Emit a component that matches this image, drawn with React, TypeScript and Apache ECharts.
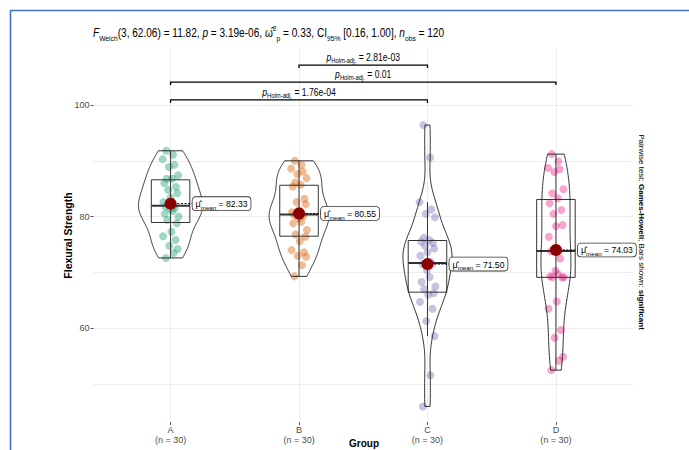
import React, { useEffect, useRef } from 'react';
import * as echarts from 'echarts';

// ---------- data ----------
const categories = ['A', 'B', 'C', 'D'];
const groupCounts = [30, 30, 30, 30];
const groupA = [72.6, 73.5, 74.2, 74.8, 75.8, 76.5, 77.3, 78.8, 79.4, 80.0, 80.5, 81.0, 81.3, 81.6, 81.8, 82.1, 82.6, 83.4, 84.2, 84.8, 85.3, 86.0, 86.8, 86.8, 87.4, 88.9, 89.3, 90.3, 91.1, 91.8];
const groupB = [69.3, 71.3, 72.8, 73.0, 73.6, 74.0, 75.6, 76.4, 76.8, 77.6, 78.8, 79.1, 79.7, 80.1, 80.3, 80.5, 80.8, 81.2, 82.2, 82.6, 83.2, 85.4, 85.7, 86.1, 86.9, 87.6, 88.1, 88.6, 89.3, 90.0];
const groupC = [46.0, 51.6, 58.6, 61.3, 63.5, 64.7, 66.0, 66.3, 67.0, 67.5, 68.3, 69.2, 70.4, 71.4, 71.5, 71.9, 73.0, 73.6, 74.3, 74.8, 75.3, 75.5, 75.8, 76.2, 79.9, 80.5, 81.3, 82.6, 90.6, 96.4];
const groupD = [52.5, 54.2, 54.9, 58.3, 59.7, 63.5, 64.8, 69.1, 69.2, 69.2, 69.3, 69.7, 70.3, 72.5, 73.8, 73.9, 76.4, 78.3, 78.5, 80.5, 81.2, 82.4, 83.3, 84.2, 84.9, 88.0, 88.5, 88.7, 89.9, 91.2];
const groupColors = ['#1B9E77', '#D95F02', '#7570B3', '#E7298A'];

const pairFrom = [1, 1, 2];
const pairTo = [3, 4, 3];
const pairLevels = [100.9, 104.1, 107.15];
const pairP = ['1.76e-04', '0.01', '2.81e-03'];

const yTickValues = [60, 80, 100];
const yMinorValues = [50, 70, 90];
const xTickValues = [1, 2, 3, 4];

// deterministic horizontal spread of the jittered points (in category units, -1..1)
const jitterPattern = [-0.55, 0.35, 0.85, -0.15, 0.6, -0.9, 0.1, 0.75, -0.4, 0.95, -0.7, 0.25, -0.05, 0.5, -0.6, 0.4, -0.85, 0.0, 0.8, -0.3, 0.65, -0.75, 0.2, -0.45, 0.9, -0.2, 0.45, -0.95, 0.3, -0.5];

// ---------- statistics ----------
const groups = [groupA, groupB, groupC, groupD];

function quantile(sorted: number[], p: number) {
  const h = (sorted.length - 1) * p;
  const lo = Math.floor(h);
  const hi = Math.min(lo + 1, sorted.length - 1);
  return sorted[lo] + (h - lo) * (sorted[hi] - sorted[lo]);
}

const stats = groups.map((vals) => {
  const s = [...vals].sort((a, b) => a - b);
  const n = s.length;
  const mean = s.reduce((a, b) => a + b, 0) / n;
  const sd = Math.sqrt(s.reduce((a, b) => a + (b - mean) * (b - mean), 0) / (n - 1));
  const q1 = quantile(s, 0.25);
  const med = quantile(s, 0.5);
  const q3 = quantile(s, 0.75);
  const iqr = q3 - q1;
  const lowFence = q1 - 1.5 * iqr;
  const highFence = q3 + 1.5 * iqr;
  const wLow = s.find((v) => v >= lowFence) as number;
  const wHigh = [...s].reverse().find((v) => v <= highFence) as number;
  const bw = 0.9 * Math.min(sd, iqr / 1.34) * Math.pow(n, -0.2);
  const grid: number[] = [];
  const dens: number[] = [];
  const steps = 160;
  for (let k = 0; k <= steps; k++) {
    const y = s[0] + ((s[n - 1] - s[0]) * k) / steps;
    let d = 0;
    for (const v of s) {
      const z = (y - v) / bw;
      d += Math.exp(-0.5 * z * z);
    }
    d /= n * bw * Math.sqrt(2 * Math.PI);
    grid.push(y);
    dens.push(d);
  }
  return { mean, q1, med, q3, wLow, wHigh, grid, dens };
});
const maxDens = Math.max(...stats.map((st) => Math.max(...st.dens)));

const FONT = '"Liberation Sans", Arial, Helvetica, sans-serif';

export default function App() {
  const ref = useRef<HTMLDivElement>(null);
  useEffect(() => {
    if (!ref.current) return;
    const chart = echarts.init(ref.current, undefined, { renderer: 'svg' });
    const gridLine = { show: true, lineStyle: { color: '#E8E8E8', width: 0.8 } };

    const pointSeries = groups.map((vals, g) => ({
      type: 'scatter',
      z: 2,
      symbolSize: 8,
      itemStyle: { color: groupColors[g], opacity: 0.42 },
      data: vals.map((v, i) => [g + 1 + jitterPattern[i % jitterPattern.length] * 0.065, v]),
      silent: true,
    }));

    const option: any = {
      animation: false,
      textStyle: { fontFamily: FONT },
      grid: { left: 93.5, right: 56, top: 49.17, height: 372.9, containLabel: false, outerBoundsMode: 'none' },
      xAxis: {
        type: 'value',
        min: 0.4,
        max: 4.6,
        axisLine: { show: false },
        axisTick: { show: true, customValues: xTickValues, length: 3, lineStyle: { color: '#333', width: 0.8 } },
        axisLabel: {
          customValues: xTickValues,
          formatter: (v: number) => `${categories[Math.round(v) - 1]}\n(n = ${groupCounts[Math.round(v) - 1]})`,
          color: '#4D4D4D',
          fontSize: 9,
          lineHeight: 10,
          margin: 3,
          fontFamily: FONT,
        },
        splitLine: gridLine,
      },
      yAxis: [
        {
          type: 'value',
          min: 43.2,
          max: 110,
          axisLine: { show: false },
          axisTick: { show: true, customValues: yTickValues, length: 3, lineStyle: { color: '#333', width: 0.8 } },
          axisLabel: { customValues: yTickValues, color: '#4D4D4D', fontSize: 9, margin: 4, fontFamily: FONT },
          splitLine: gridLine,
        },
        {
          type: 'value',
          min: 43.2,
          max: 110,
          position: 'left',
          axisLine: { show: false },
          axisTick: { show: false, customValues: yMinorValues },
          axisLabel: { show: false, customValues: yMinorValues },
          splitLine: gridLine,
        },
      ],
      series: [
        ...pointSeries,
        {
          type: 'custom',
          z: 3,
          silent: true,
          data: categories.map((_, i) => [i + 1, stats[i].med]),
          renderItem: (params: any, api: any) => {
            const i = params.dataIndex;
            const st = stats[i];
            const cx = i + 1;
            const top = api.coord([cx - 0.15, st.q3]);
            const bot = api.coord([cx + 0.15, st.q1]);
            const wl = api.coord([cx, st.wLow]);
            const wh = api.coord([cx, st.wHigh]);
            const ml = api.coord([cx - 0.15, st.med]);
            const mr = api.coord([cx + 0.15, st.med]);
            return {
              type: 'group',
              children: [
                { type: 'line', shape: { x1: wl[0], y1: wl[1], x2: wh[0], y2: wh[1] }, style: { stroke: '#333', lineWidth: 1 } },
                { type: 'rect', shape: { x: top[0], y: top[1], width: bot[0] - top[0], height: bot[1] - top[1] }, style: { fill: 'none', stroke: '#333', lineWidth: 1 } },
                { type: 'line', shape: { x1: ml[0], y1: ml[1], x2: mr[0], y2: mr[1] }, style: { stroke: '#333', lineWidth: 2 } },
              ],
            };
          },
        },
        {
          type: 'custom',
          z: 3,
          silent: true,
          data: categories.map((_, i) => [i + 1, stats[i].med]),
          renderItem: (params: any, api: any) => {
            const i = params.dataIndex;
            const st = stats[i];
            const cx = i + 1;
            const left: number[][] = [];
            const right: number[][] = [];
            st.grid.forEach((y, k) => {
              const hw = (0.25 * st.dens[k]) / maxDens;
              left.push(api.coord([cx - hw, y]));
              right.push(api.coord([cx + hw, y]));
            });
            return {
              type: 'polygon',
              shape: { points: left.concat(right.reverse()) },
              style: { fill: 'none', stroke: '#1a1a1a', lineWidth: 0.9 },
            };
          },
        },
        {
          type: 'custom',
          z: 4,
          silent: true,
          data: categories.map((_, i) => [i + 1, stats[i].mean]),
          renderItem: (params: any, api: any) => {
            const i = params.dataIndex;
            const p = api.coord([i + 1, stats[i].mean]);
            const lx = p[0] + 22;
            return {
              type: 'group',
              children: [
                { type: 'line', shape: { x1: p[0], y1: p[1], x2: lx, y2: p[1] }, style: { stroke: '#000', lineWidth: 1, lineDash: [2, 1.5] } },
                {
                  type: 'text',
                  x: lx,
                  y: p[1],
                  style: {
                    text: `{mu|μ̂}{sub|mean}{n| = ${stats[i].mean.toFixed(2)}}`,
                    rich: {
                      mu: { fontSize: 9, lineHeight: 12, fontFamily: FONT, fill: '#000' },
                      sub: { fontSize: 6.2, lineHeight: 7, verticalAlign: 'bottom', fontFamily: FONT, fill: '#000' },
                      n: { fontSize: 8.6, lineHeight: 12, fontFamily: FONT, fill: '#000' },
                    },
                    align: 'left',
                    verticalAlign: 'middle',
                    backgroundColor: '#fff',
                    borderColor: '#333',
                    borderWidth: 0.8,
                    borderRadius: 3,
                    padding: [1, 3, 0, 3],
                  },
                },
              ],
            };
          },
        },
        {
          type: 'scatter',
          z: 5,
          symbolSize: 12,
          itemStyle: { color: '#8B0000', opacity: 1 },
          data: categories.map((_, i) => [i + 1, stats[i].mean]),
          silent: true,
        },
        {
          type: 'custom',
          z: 5,
          silent: true,
          data: pairFrom.map((f, i) => [f, pairLevels[i]]),
          renderItem: (params: any, api: any) => {
            const i = params.dataIndex;
            const a = api.coord([pairFrom[i], pairLevels[i]]);
            const b = api.coord([pairTo[i], pairLevels[i]]);
            return {
              type: 'group',
              children: [
                {
                  type: 'polyline',
                  shape: { points: [[a[0], a[1] + 3], [a[0], a[1]], [b[0], b[1]], [b[0], b[1] + 3]] },
                  style: { stroke: '#000', lineWidth: 1.3, fill: 'none' },
                },
                {
                  type: 'text',
                  x: (a[0] + b[0]) / 2,
                  y: a[1] - 1,
                  scaleX: 0.86,
                  style: {
                    text: `{p|p}{sub|Holm-adj.}{n| = ${pairP[i]}}`,
                    rich: {
                      p: { fontSize: 10, fontStyle: 'italic', lineHeight: 13, fontFamily: FONT, fill: '#000' },
                      sub: { fontSize: 6.8, lineHeight: 7, verticalAlign: 'bottom', fontFamily: FONT, fill: '#000' },
                      n: { fontSize: 10, lineHeight: 13, fontFamily: FONT, fill: '#000' },
                    },
                    align: 'center',
                    verticalAlign: 'bottom',
                  },
                },
              ],
            };
          },
        },
      ],
      graphic: [
        {
          type: 'rect',
          x: 10.5,
          y: 10.5,
          shape: { x: 0, y: 0, width: 720, height: 500 },
          style: { fill: 'none', stroke: '#4472C4', lineWidth: 1.6 },
          silent: true,
        },
        {
          type: 'text',
          x: 93,
          y: 24,
          scaleX: 0.84,
          style: {
            text:
              '{i|F}{sub|Welch}{n|(3, 62.06) = 11.82, }{i|p}{n| = 3.19e-06, }{n|ω̂}{sup|2}{sub|p}{n| = 0.33, CI}{sub|95%}{n| [0.16, 1.00], }{i|n}{sub|obs}{n| = 120}',
            rich: {
              i: { fontSize: 12, fontStyle: 'italic', lineHeight: 18, fontFamily: FONT, fill: '#000' },
              n: { fontSize: 12, lineHeight: 18, fontFamily: FONT, fill: '#000' },
              sub: { fontSize: 8, lineHeight: 8, verticalAlign: 'bottom', fontFamily: FONT, fill: '#000' },
              sup: { fontSize: 8, lineHeight: 8, verticalAlign: 'top', fontFamily: FONT, fill: '#000' },
            },
          },
        },
        {
          type: 'text',
          x: 68,
          y: 235.5,
          rotation: Math.PI / 2,
          style: {
            text: 'Flexural Strength',
            fontSize: 10.5,
            fontWeight: 'bold',
            fontFamily: FONT,
            fill: '#000',
            align: 'center',
            verticalAlign: 'middle',
          },
        },
        {
          type: 'text',
          x: 364,
          y: 438,
          style: {
            text: 'Group',
            fontSize: 10,
            fontWeight: 'bold',
            fontFamily: FONT,
            fill: '#000',
            align: 'center',
            verticalAlign: 'top',
          },
        },
        {
          type: 'text',
          x: 641,
          y: 232,
          rotation: -Math.PI / 2,
          style: {
            text: '{n|Pairwise test: }{b|Games-Howell}{n|; Bars shown: }{b|significant}',
            rich: {
              n: { fontSize: 8, fontFamily: FONT, fill: '#000' },
              b: { fontSize: 8, fontWeight: 'bold', fontFamily: FONT, fill: '#000' },
            },
            align: 'center',
            verticalAlign: 'middle',
          },
        },
      ],
    };
    chart.setOption(option);
    return () => chart.dispose();
  }, []);
  return <div ref={ref} style={{ position: 'fixed', left: 0, top: 0, width: 689, height: 450, background: '#fff' }} />;
}
